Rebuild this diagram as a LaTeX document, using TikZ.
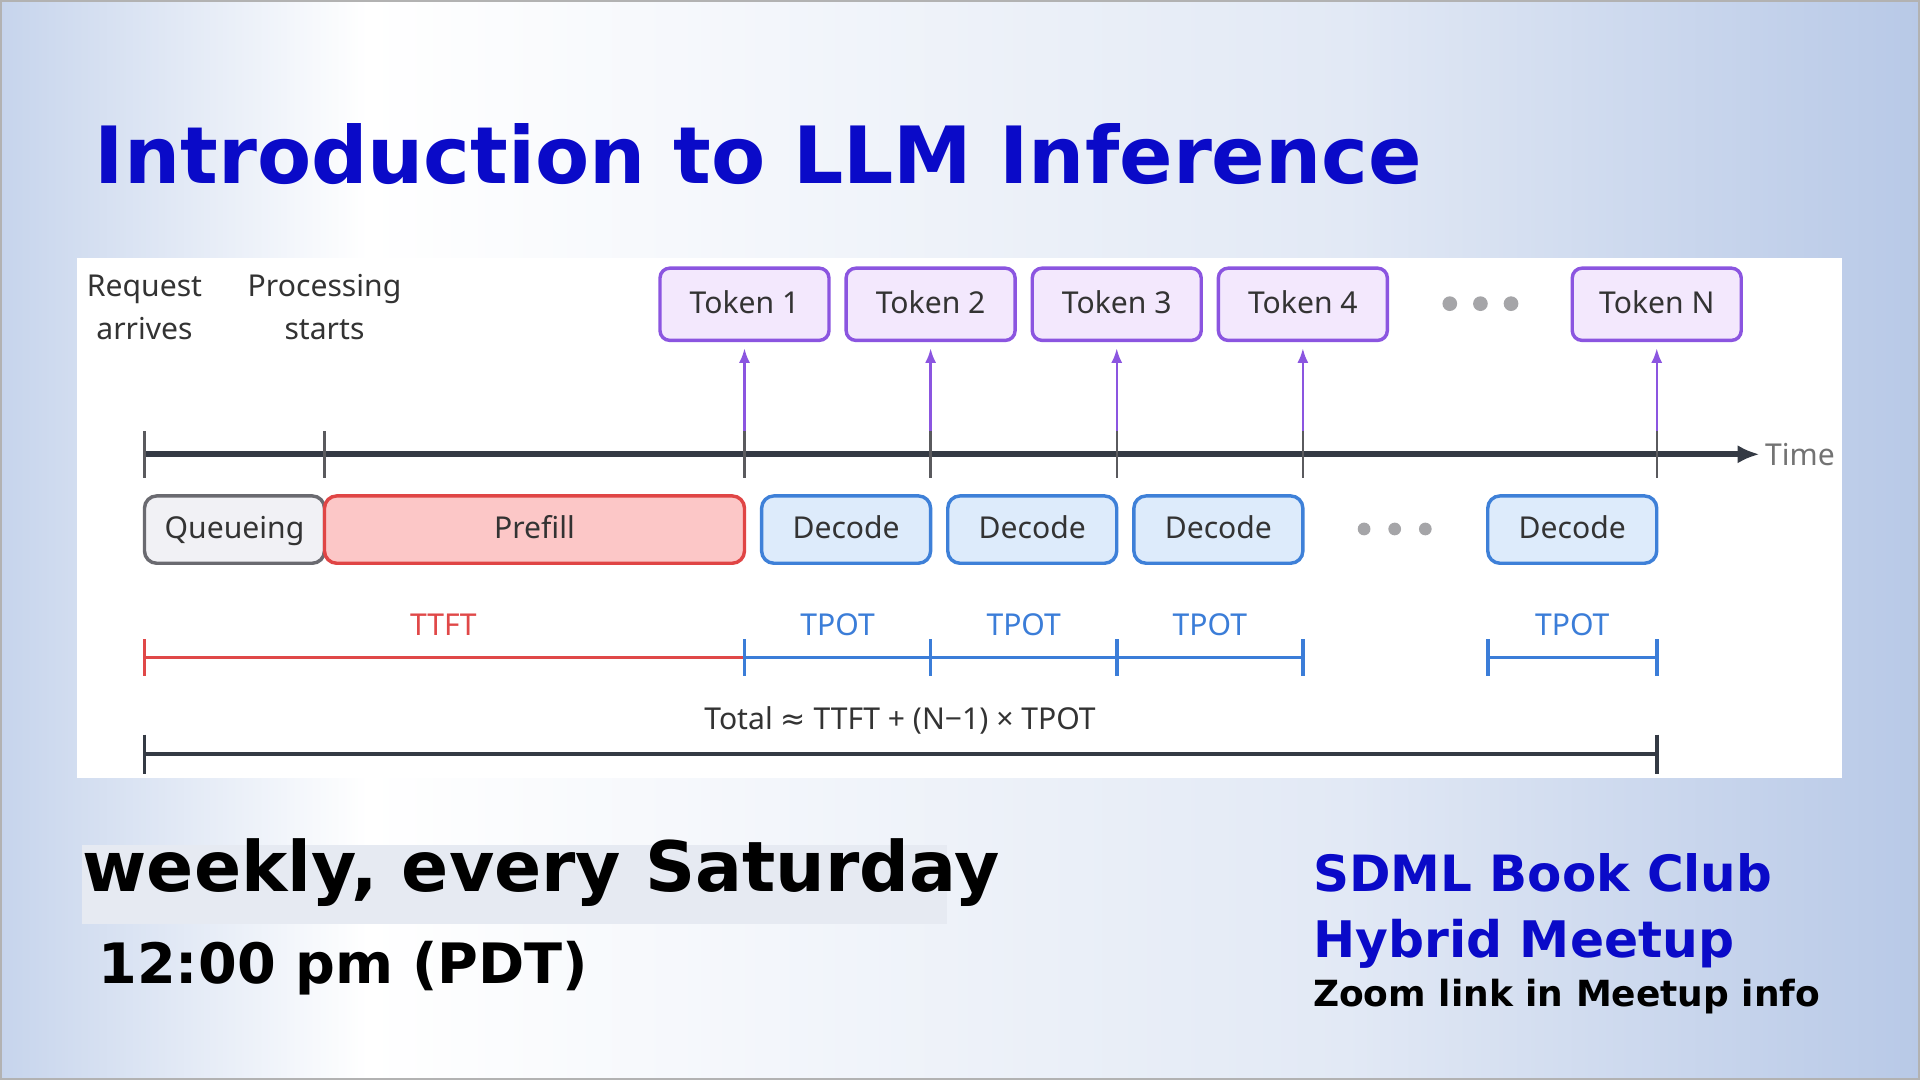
\documentclass[tikz,border=0pt]{standalone}
\usepackage{fontspec}
\setmainfont{Noto Sans}
\newfontfamily\headfont{DejaVu Sans}
\newfontfamily\symfont{DejaVu Sans}
\usetikzlibrary{arrows.meta}
\definecolor{titleblue}{HTML}{0A0AC8}
\definecolor{txt}{HTML}{333333}
\definecolor{tokfill}{HTML}{F3E8FD}
\definecolor{tokdraw}{HTML}{8B55E0}
\definecolor{quefill}{HTML}{F1F1F5}
\definecolor{quedraw}{HTML}{6A6A70}
\definecolor{prefillc}{HTML}{FCC7C7}
\definecolor{predraw}{HTML}{E04545}
\definecolor{decfill}{HTML}{DDEBFB}
\definecolor{decdraw}{HTML}{3E80D8}
\definecolor{axisc}{HTML}{343A44}
\definecolor{ttftc}{HTML}{E04848}
\definecolor{tpotc}{HTML}{3B7DD8}
\definecolor{dotgray}{HTML}{A5A5A8}
\definecolor{tickgray}{HTML}{5A5A5E}
\definecolor{bgL}{HTML}{C6D4EC}
\definecolor{bgM}{HTML}{E2E9F5}
\definecolor{bgR}{HTML}{B8C9E7}
\definecolor{bandc}{HTML}{E6EAF2}
\begin{document}
\begin{tikzpicture}[x={(0.5pt,0)},y={(0,-0.5pt)},
  lbl/.style={font=\fontsize{12.3pt}{17.5pt}\selectfont, text=txt, inner sep=0pt, align=center},
  tokbox/.style={draw=tokdraw, fill=tokfill, line width=1.4pt, rounded corners=4pt,
     minimum width=69pt, minimum height=29.5pt, inner sep=0pt, text height=8.8pt, text depth=1.5pt,
     font=\fontsize{12.3pt}{15pt}\selectfont, text=txt},
  stagebox/.style={line width=1.4pt, rounded corners=5pt, minimum height=27.5pt, inner sep=0pt,
     text height=8.8pt, text depth=1.5pt,
     font=\fontsize{12.3pt}{15pt}\selectfont, text=txt},
  quebox/.style={stagebox, draw=quedraw, fill=quefill, minimum width=73.5pt},
  prebox/.style={stagebox, draw=predraw, fill=prefillc, minimum width=171.5pt},
  decbox/.style={stagebox, draw=decdraw, fill=decfill, minimum width=69pt},
  axisline/.style={draw=axisc, line width=2.4pt, -{Latex[length=9pt,width=7.5pt]}},
  tickline/.style={draw=tickgray, line width=1pt},
  parrow/.style={draw=tokdraw, line width=1pt, -{Latex[length=6pt,width=4.5pt]}, shorten >=2.5pt},
  ttftline/.style={draw=ttftc, line width=1.5pt},
  tpotline/.style={draw=tpotc, line width=1.5pt},
  totline/.style={draw=axisc, line width=1.5pt},
  dot/.style={fill=dotgray, draw=none},
  big/.style={inner sep=0pt, anchor=base west}
]
\useasboundingbox (0,0) rectangle (1568,882);
% background
\fill[left color=bgL, right color=white] (0,0) rectangle (300,882);
\fill[left color=white, right color=bgM] (299,0) rectangle (1100,882);
\fill[left color=bgM, right color=bgR] (1099,0) rectangle (1568,882);
\draw[gray!60, line width=2pt] (0,0) rectangle (1568,882);
% white panel
\fill[white] (63,211) rectangle (1504,635);

% title
\node[big, text=titleblue] (title) at (77,150) {\resizebox{542pt}{!}{\headfont\bfseries Introduction to LLM Inference}};

% top labels
\node[lbl] (req) at (118,251) {Request\\arrives};
\node[lbl] (proc) at (265,251) {Processing\\starts};

% tokens
\node[tokbox] (t1) at (608,248.5) {Token 1};
\node[tokbox] (t2) at (760,248.5) {Token 2};
\node[tokbox] (t3) at (912,248.5) {Token 3};
\node[tokbox] (t4) at (1064,248.5) {Token 4};
\node[tokbox] (tn) at (1353,248.5) {Token N};
\fill[dot] (1184,248) circle (3pt) (1209,248) circle (3pt) (1234,248) circle (3pt);

% timeline
\coordinate (a0) at (118,371);
\coordinate (a1) at (1437,371);
\draw[axisline] (a0) -- (a1);
\node[lbl, anchor=west, text=black!55] (time) at (a1) {\,Time};
\coordinate (p0) at (118,371);
\coordinate (p1) at (265,371);
\coordinate (k1) at (608,371);
\coordinate (k2) at (760,371);
\coordinate (k3) at (912,371);
\coordinate (k4) at (1064,371);
\coordinate (kn) at (1353,371);
\draw[parrow] ([yshift=9pt]k1) -- (t1.south);
\draw[parrow] ([yshift=9pt]k2) -- (t2.south);
\draw[parrow] ([yshift=9pt]k3) -- (t3.south);
\draw[parrow] ([yshift=9pt]k4) -- (t4.south);
\draw[parrow] ([yshift=9pt]kn) -- (tn.south);
\foreach \c in {p0,p1,k1,k2,k3,k4,kn}{
  \draw[tickline] ([yshift=9.5pt]\c) -- ([yshift=-9.5pt]\c);
}

% stages
\node[quebox] (que) at (191.5,432.5) {Queueing};
\node[prebox] (pre) at (436.5,432.5) {Prefill};
\node[decbox] (d1) at (691,432.5) {Decode};
\node[decbox] (d2) at (843,432.5) {Decode};
\node[decbox] (d3) at (995,432.5) {Decode};
\node[decbox] (dn) at (1284,432.5) {Decode};
\fill[dot] (1114,432) circle (2.6pt) (1139,432) circle (2.6pt) (1164,432) circle (2.6pt);

% TTFT / TPOT
\coordinate (m0) at (118,537);
\coordinate (m1) at (608,537);
\coordinate (m2) at (760,537);
\coordinate (m3) at (912,537);
\coordinate (m4) at (1064,537);
\coordinate (m5) at (1215,537);
\coordinate (m6) at (1353,537);
\draw[ttftline] (m0) -- (m1);
\draw[ttftline] ([yshift=7.5pt]m0) -- ([yshift=-7.5pt]m0);
\draw[tpotline] (m1) -- (m4);
\draw[tpotline] (m5) -- (m6);
\foreach \c in {m1,m2,m3,m4,m5,m6}{
  \draw[tpotline] ([yshift=7.5pt]\c) -- ([yshift=-7.5pt]\c);
}
\node[lbl, text=ttftc] (lttft) at (362,510) {TTFT};
\node[lbl, text=tpotc] (lp1) at (684,510) {TPOT};
\node[lbl, text=tpotc] (lp2) at (836,510) {TPOT};
\node[lbl, text=tpotc] (lp3) at (988,510) {TPOT};
\node[lbl, text=tpotc] (lp4) at (1284,510) {TPOT};

% total
\coordinate (s0) at (118,616);
\coordinate (s1) at (1353,616);
\draw[totline] (s0) -- (s1);
\draw[totline] ([yshift=8pt]s0) -- ([yshift=-8pt]s0);
\draw[totline] ([yshift=8pt]s1) -- ([yshift=-8pt]s1);
\node[lbl] (ltot) at (735,588) {Total {\symfont ≈} TTFT + (N−1) × TPOT};

% bottom text
\fill[bandc] (67,690) rectangle (773,755);
\node[big] (weekly) at (67,728) {\resizebox{374.5pt}{!}{\headfont\bfseries weekly, every Saturday}};
\node[big] (time2) at (80,803) {\resizebox{200pt}{!}{\headfont\bfseries 12:00 pm (PDT)}};
\node[big, text=titleblue] (sdml) at (1072,728) {\resizebox{187.5pt}{!}{\headfont\bfseries SDML Book Club}};
\node[big, text=titleblue] (hyb) at (1072,782) {\resizebox{172pt}{!}{\headfont\bfseries Hybrid Meetup}};
\node[big] (zoom) at (1072,822) {\resizebox{207pt}{!}{\headfont\bfseries Zoom link in Meetup info}};
\end{tikzpicture}
\end{document}
